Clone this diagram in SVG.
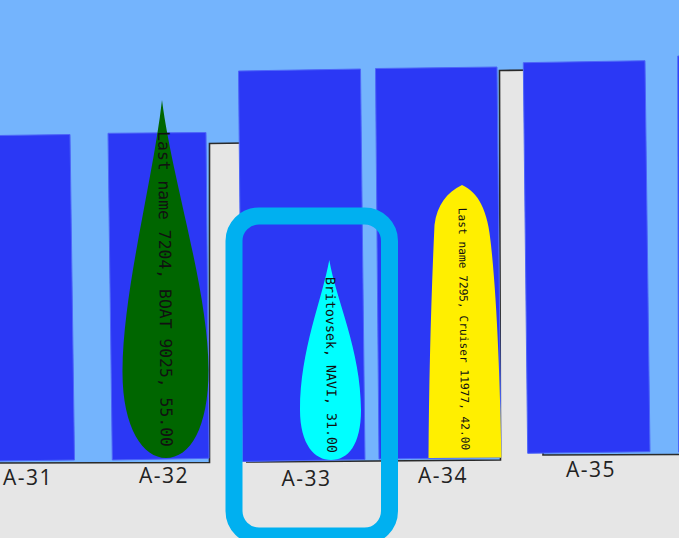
<svg xmlns="http://www.w3.org/2000/svg" width="679" height="538" viewBox="0 0 679 538">
<style>
.water{fill:#74b4fd}
.dock{fill:#e6e6e6}
.edge{fill:none;stroke:#2a2a2a;stroke-width:1.6;stroke-linejoin:miter}
.slip{fill:#2b38f5;stroke:#4d66f8;stroke-width:1}
.lbl{font-family:"Open Sans","Noto Sans","Liberation Sans",sans-serif;font-size:21px;fill:#222;letter-spacing:1.5px;text-anchor:middle}
.bt{font-family:"DejaVu Sans Mono","Liberation Mono",monospace;fill:#111;text-anchor:middle;dominant-baseline:central}
.hl{fill:none;stroke:#00b0f0;stroke-width:17}
</style>
<rect class="water" x="0" y="0" width="679" height="538"/>
<g id="dock">
<polygon class="dock" points="0,463 209.5,462.5 209.5,143.5 246,143 246,462 500.5,460 499.5,70.5 543,70 543,455 679,454.5 679,538 0,538"/>
<polyline class="edge" points="0,463 209.5,462.5 209.5,143.5 246,143"/>
<polyline class="edge" points="246,462 500.5,460 499.5,70.5 543,70"/>
<polyline class="edge" points="543,451.5 543,455 679,454.5"/>
</g>
<g id="connectors"/>
<g id="slip-A-31">
<polygon class="slip" points="-2,135.5 70,134.5 74.5,460 -2,461"/>
<text class="lbl" x="28" y="485">A-31</text>
</g>
<g id="slip-A-32">
<polygon class="slip" points="108,133.3 206,132.5 209,458.3 112.3,460"/>
<text class="lbl" x="164" y="483">A-32</text>
</g>
<g id="slip-A-33">
<polygon class="slip" points="238.5,71 360.5,69 365,459.5 242.5,461.5"/>
<text class="lbl" x="306.5" y="485.5">A-33</text>
</g>
<g id="slip-A-34">
<polygon class="slip" points="375.5,68.5 497,67 501,457.5 379,459"/>
<text class="lbl" x="443" y="483">A-34</text>
</g>
<g id="slip-A-35">
<polygon class="slip" points="523.3,62.7 645,60.7 650,451.7 527.7,453.3"/>
<text class="lbl" x="591" y="477">A-35</text>
</g>
<g id="slip-A-36">
<polygon class="slip" points="677.8,56 681,56 681,452 678.5,452"/>
</g>
<g id="boat-7204">
<path fill="#006600" d="M162,100 C153,180 123,290 122.5,370 C122,428 143,458 166,458 C190,458 208.5,428 208.5,370 C208.5,290 172,180 162,100 Z"/>
<text class="bt" font-size="16.4" transform="translate(165,289) rotate(89.5)">Last name 7204, BOAT 9025, 55.00</text>
</g>
<g id="boat-britovsek">
<path fill="#00ffff" d="M329.3,260 C322,300 300,350 300,410 C300,445 315,460 331,460 C348,460 361,445 361,410 C361,350 336,300 329.3,260 Z"/>
<text class="bt" font-size="13.3" transform="translate(331,365) rotate(89.5)">Britovsek, NAVI, 31.00</text>
</g>
<g id="boat-7295">
<path fill="#ffef00" d="M462,185 C447,192 437,205 434.5,225 C431,300 429,380 428.5,458 L501.5,457.5 C500,380 497,300 491,245 C488,210 478,192 462,185 Z"/>
<text class="bt" font-size="11.2" transform="translate(463.5,329) rotate(89.3)">Last name 7295, Cruiser 11977, 42.00</text>
</g>
<g id="highlight-A-33">
<rect class="hl" x="234" y="216" width="155.5" height="320" rx="25" ry="25"/>
</g>
</svg>
